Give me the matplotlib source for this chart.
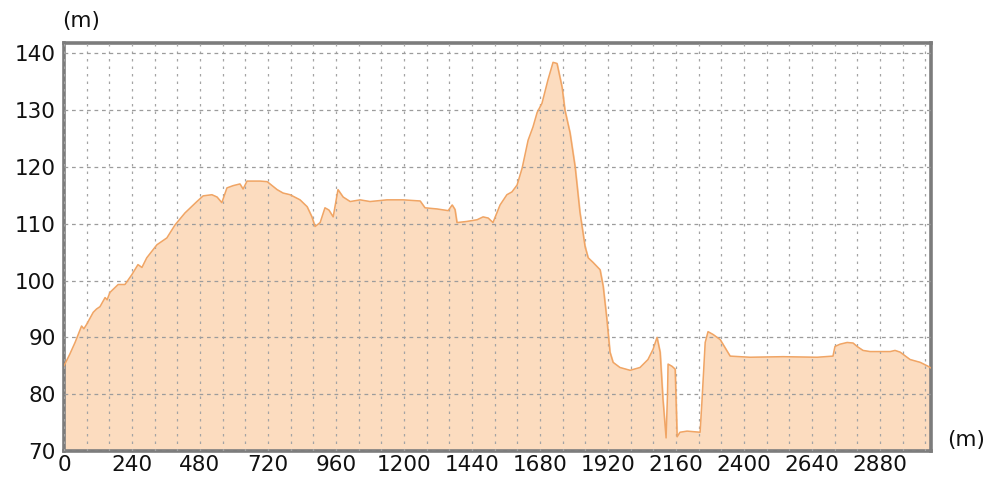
import numpy as np
import matplotlib
matplotlib.use('Agg')
import matplotlib.pyplot as plt

# distance along the track (m) and elevation (m)
dist = [0, 20, 39, 50, 62, 70, 80, 103, 115, 127, 145, 152, 162, 191, 215, 239, 261, 275,
        292, 328, 363, 392, 427, 469, 491, 522, 540, 557, 575, 597, 621, 632, 646, 692,
        717, 752, 773, 798, 833, 858, 875, 886, 904, 921, 935, 950, 967, 985, 1010, 1045,
        1080, 1140, 1197, 1257, 1274, 1316, 1356, 1370, 1380, 1387, 1422, 1458, 1479,
        1497, 1514, 1539, 1563, 1581, 1599, 1617, 1638, 1655, 1670, 1687, 1708, 1726,
        1740, 1758, 1768, 1786, 1804, 1821, 1839, 1850, 1867, 1892, 1903, 1916, 1927,
        1938, 1962, 1998, 2033, 2061, 2079, 2093, 2104, 2114, 2125, 2130, 2132, 2146,
        2157, 2164, 2174, 2199, 2245, 2252, 2263, 2273, 2291, 2316, 2351, 2421, 2538,
        2658, 2714, 2721, 2739, 2764, 2785, 2799, 2820, 2845, 2916, 2933, 2951, 2986,
        3022, 3050, 3060]
elev = [85, 87, 89.1, 90.5, 92, 91.5, 92.3, 94.4, 95, 95.4, 97, 96.6, 97.9, 99.3, 99.3,
        101, 102.8, 102.3, 104, 106.3, 107.5, 109.8, 111.9, 113.9, 114.9, 115.1, 114.7,
        113.7, 116.3, 116.7, 117, 116.1, 117.5, 117.5, 117.4, 116, 115.4, 115.1, 114.2,
        113, 111.2, 109.5, 110.2, 112.8, 112.4, 111.2, 116, 114.7, 113.9, 114.2, 113.9,
        114.2, 114.2, 114, 112.8, 112.6, 112.3, 113.3, 112.5, 110.2, 110.4, 110.7, 111.2,
        111, 110.2, 113.3, 115.1, 115.6, 116.8, 119.8, 124.7, 127, 129.6, 131.2, 135.3,
        138.4, 138.2, 134, 130, 126, 120, 112, 106, 104, 103.2, 101.9, 99, 93.2, 87.4,
        85.6, 84.7, 84.2, 84.7, 86.1, 87.9, 90, 87.4, 79.1, 72.3, 80, 85.3, 84.9, 84.4,
        72.5, 73.3, 73.5, 73.3, 79.1, 89.1, 91, 90.5, 89.6, 86.7, 86.5, 86.6, 86.5, 86.7,
        88.4, 88.8, 89.1, 89, 88.4, 87.7, 87.5, 87.5, 87.7, 87.4, 86.1, 85.6, 84.9, 84.6]

xticks = list(range(0, 3000, 240))
yticks = list(range(70, 141, 10))

fig = plt.figure(figsize=(9.89, 4.84), dpi=100)
ax = fig.add_axes([64/989, 1-451/484, (931-64)/989, (451-43)/484])

ax.fill_between(dist, elev, 70, color='#fcdcbf', zorder=1)
ax.plot(dist, elev, color='#f0a565', lw=1.1, zorder=3)

ax.set_xlim(0, 3060)
ax.set_ylim(70, 141.8)
ax.set_xticks(xticks)
ax.set_yticks(yticks)
ax.set_xticks(np.arange(80, 3060, 80), minor=True)

ax.grid(which='major', axis='y', color='#9c9c9c', ls=(0, (3, 3)), lw=0.9, zorder=2)
ax.grid(which='both', axis='x', color='#a4a4a4', ls=(0, (2, 4)), lw=0.9, zorder=2)
ax.set_axisbelow(False)

for s in ax.spines.values():
    s.set_color('#7c7c7c')
    s.set_linewidth(2.6)

ax.tick_params(which='both', length=0, labelsize=15.5, colors='#111111')
ax.tick_params(axis='x', pad=3)
ax.tick_params(axis='y', pad=6)

fig.text(81/989, 1-21/484, '(m)', fontsize=15.5, ha='center', va='center', color='#111111')
fig.text(966/989, 1-440/484, '(m)', fontsize=15.5, ha='center', va='center', color='#111111')

fig.savefig('out.png', dpi=100)
